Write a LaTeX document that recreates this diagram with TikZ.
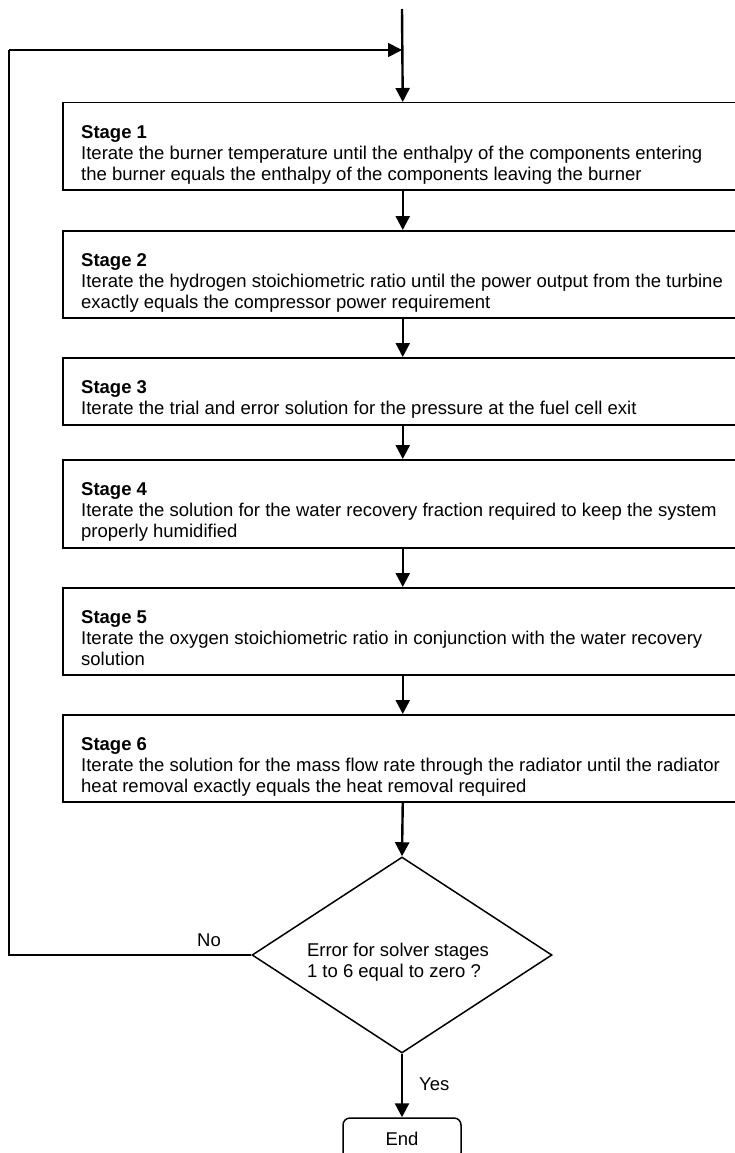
\documentclass[tikz,border=0pt]{standalone}
\usepackage{fontspec}
\setmainfont{Liberation Sans}
\usetikzlibrary{arrows.meta,shapes.geometric,calc}

\begin{document}
\begin{tikzpicture}[x=1pt,y=-1pt,
  every node/.style={font=\fontsize{18.5}{21}\selectfont},
  stagebox/.style={draw, line width=1.5pt, rectangle, anchor=north west,
    minimum width=680pt, inner sep=0pt},
  stagetext/.style={anchor=base west, align=left, inner sep=0pt},
  decision/.style={draw, line width=1.5pt, diamond, minimum width=300pt,
    minimum height=196pt, inner sep=0pt},
  endbox/.style={draw, line width=1.5pt, rounded corners=7pt,
    minimum width=118pt, minimum height=42pt, inner sep=0pt},
  flow/.style={line width=2.4pt, -{Triangle[length=14pt,width=14pt]}},
  loopline/.style={line width=1.8pt},
  label/.style={inner sep=0pt, anchor=base west}]

\clip (0,0) rectangle (735,1153);
\useasboundingbox (0,0) rectangle (735,1153);

% entry point of the iteration
\coordinate (start) at (402,9);

% solver stages (text offset: 36 + 21 per extra line)
\node[stagebox, minimum height=87pt] (s1) at (62,102) {};
\node[stagetext] (t1) at ($(s1.north west)+(19,78)$)
  {\textbf{Stage 1}\\Iterate the burner temperature until the enthalpy of the components entering\\the burner equals the enthalpy of the components leaving the burner};

\node[stagebox, minimum height=87pt] (s2) at (62,230) {};
\node[stagetext] (t2) at ($(s2.north west)+(19,78)$)
  {\textbf{Stage 2}\\Iterate the hydrogen stoichiometric ratio until the power output from the turbine\\exactly equals the compressor power requirement};

\node[stagebox, minimum height=67pt] (s3) at (62,357) {};
\node[stagetext] (t3) at ($(s3.north west)+(19,57)$)
  {\textbf{Stage 3}\\Iterate the trial and error solution for the pressure at the fuel cell exit};

\node[stagebox, minimum height=88pt] (s4) at (62,459) {};
\node[stagetext] (t4) at ($(s4.north west)+(19,78)$)
  {\textbf{Stage 4}\\Iterate the solution for the water recovery fraction required to keep the system\\properly humidified};

\node[stagebox, minimum height=87pt] (s5) at (62,587) {};
\node[stagetext] (t5) at ($(s5.north west)+(19,78)$)
  {\textbf{Stage 5}\\Iterate the oxygen stoichiometric ratio in conjunction with the water recovery\\solution};

\node[stagebox, minimum height=87pt] (s6) at (62,714) {};
\node[stagetext] (t6) at ($(s6.north west)+(19,78)$)
  {\textbf{Stage 6}\\Iterate the solution for the mass flow rate through the radiator until the radiator\\heat removal exactly equals the heat removal required};

% convergence check and exit
\node[decision] (check) at (402,955) {};
\node[align=left, inner sep=0pt] (checktext) at ($(check.center)+(-4,7)$)
  {Error for solver stages\\1 to 6 equal to zero ?};
\node[endbox] (end) at (402,1139) {End};

% loop-back path
\coordinate (lb) at (9,955);
\coordinate (lt) at (9,50);
\coordinate (join) at (402,50);

% connectors
\draw[flow] (start) -- (s1.north);
\draw[flow] (s1.south) -- (s2.north);
\draw[flow] (s2.south) -- (s3.north);
\draw[flow] (s3.south) -- (s4.north);
\draw[flow] (s4.south) -- (s5.north);
\draw[flow] (s5.south) -- (s6.north);
\draw[flow] (s6.south) -- (check.north);
\draw[flow] (check.south) -- (end.north);
\draw[loopline] (check.west) -- (lb) -- (lt);
\draw[loopline, -{Triangle[length=14pt,width=14pt]}] (lt) -- (join);

% branch labels
\node[label] (no) at (197,946) {No};
\node[label] (yes) at (419,1090) {Yes};

\end{tikzpicture}
\end{document}
